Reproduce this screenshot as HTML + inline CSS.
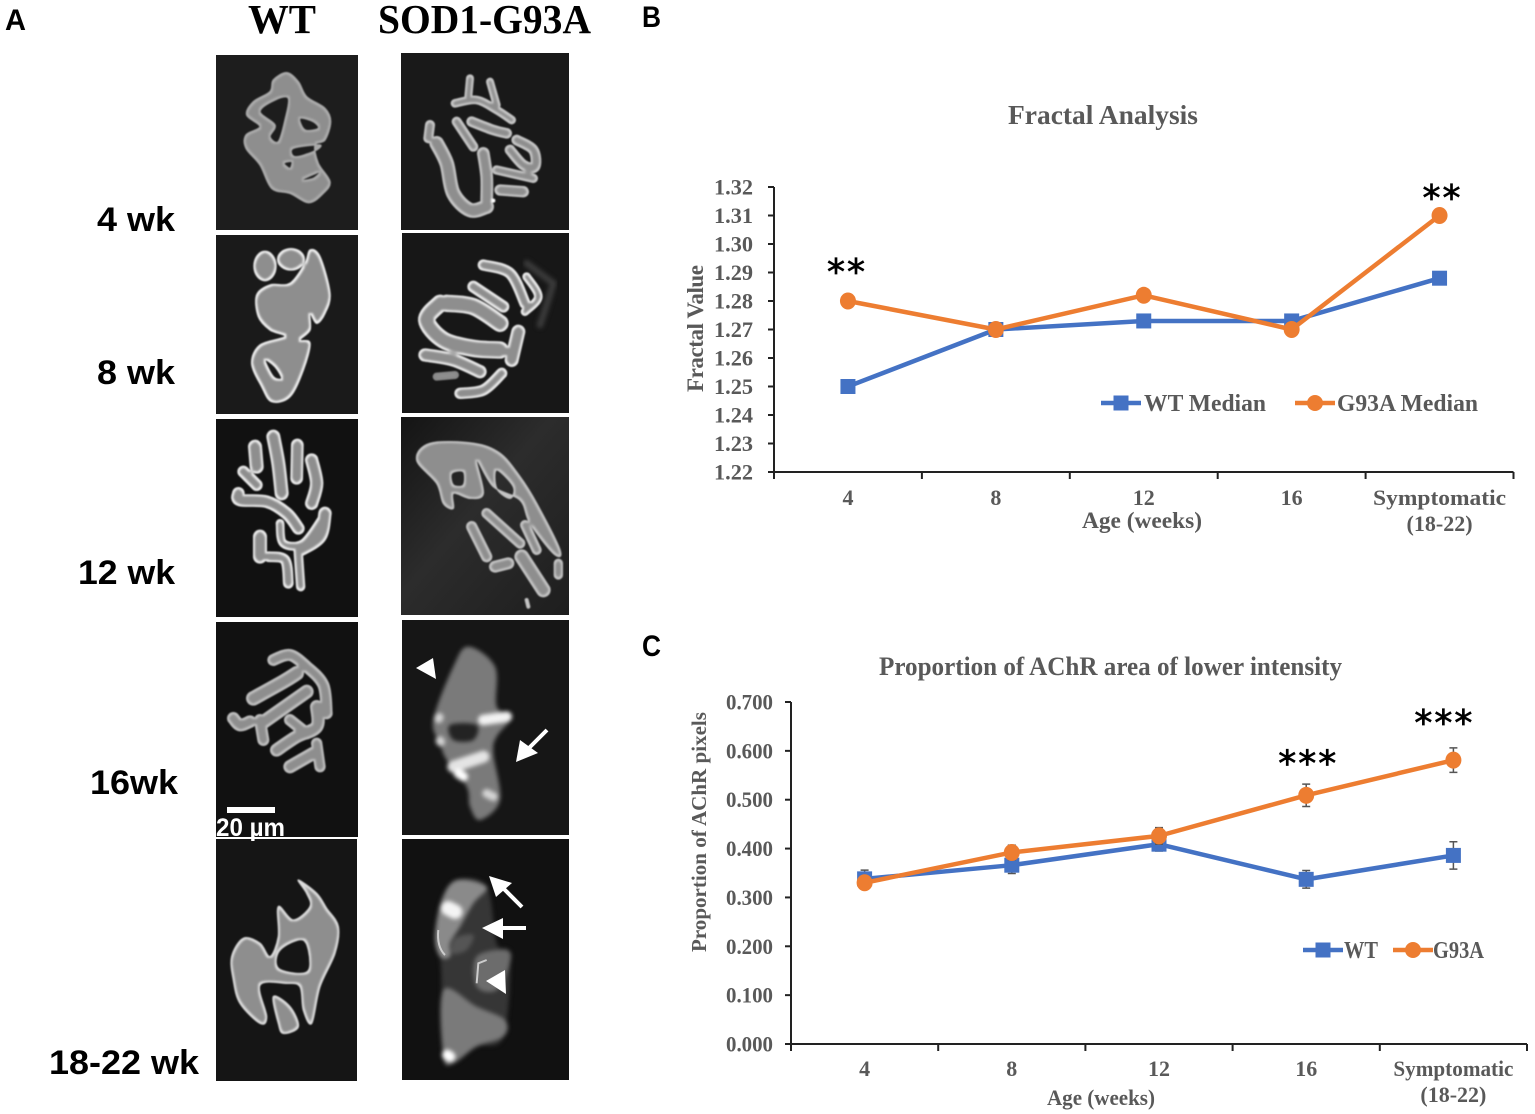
<!DOCTYPE html>
<html><head><meta charset="utf-8"><title>NMJ morphology figure</title>
<style>
html,body{margin:0;padding:0;background:#fff}
svg{display:block}
text{font-family:"Liberation Serif",serif}
.sans{font-family:"Liberation Sans",sans-serif;font-weight:bold;fill:#000}
.ct{font-weight:bold;fill:#595959}
</style></head>
<body>
<svg id="fig" xmlns="http://www.w3.org/2000/svg" width="1535" height="1114" viewBox="0 0 1535 1114">
<defs>
<filter id="nmj" x="-15%" y="-15%" width="130%" height="130%" color-interpolation-filters="sRGB">
<feMorphology in="SourceAlpha" operator="erode" radius="6" result="er"/>
<feGaussianBlur in="er" stdDeviation="2.5" result="erb"/>
<feFlood flood-color="#8e8e8e"/>
<feComposite in2="erb" operator="in" result="core"/>
<feMerge result="m"><feMergeNode in="SourceGraphic"/><feMergeNode in="core"/></feMerge>
<feGaussianBlur in="m" stdDeviation="2.6"/>
</filter>
<filter id="soft" x="-15%" y="-15%" width="130%" height="130%" color-interpolation-filters="sRGB"><feGaussianBlur stdDeviation="6"/></filter>
<linearGradient id="sod3bg" x1="0" y1="0" x2="1" y2="1"><stop offset="0" stop-color="#141414"/><stop offset=".45" stop-color="#2c2c2c"/><stop offset="1" stop-color="#1e1e1e"/></linearGradient>
</defs>
<rect width="1535" height="1114" fill="#fff"/>

<text class="sans" x="5" y="30" font-size="30" textLength="21" lengthAdjust="spacingAndGlyphs">A</text>
<text class="sans" x="642" y="27" font-size="30" textLength="19" lengthAdjust="spacingAndGlyphs">B</text>
<text class="sans" x="642" y="656" font-size="30" textLength="19" lengthAdjust="spacingAndGlyphs">C</text>
<text x="248" y="33" font-size="41" font-weight="bold" textLength="68" lengthAdjust="spacingAndGlyphs">WT</text>
<text x="378" y="33" font-size="41" font-weight="bold" textLength="213" lengthAdjust="spacingAndGlyphs">SOD1-G93A</text>

<text class="sans" x="97" y="231" font-size="34" textLength="78" lengthAdjust="spacingAndGlyphs">4 wk</text>
<text class="sans" x="97" y="384" font-size="34" textLength="78" lengthAdjust="spacingAndGlyphs">8 wk</text>
<text class="sans" x="78" y="584" font-size="34" textLength="97" lengthAdjust="spacingAndGlyphs">12 wk</text>
<text class="sans" x="90" y="794" font-size="34" textLength="88" lengthAdjust="spacingAndGlyphs">16wk</text>
<text class="sans" x="49" y="1074" font-size="34" textLength="150" lengthAdjust="spacingAndGlyphs">18-22 wk</text>

<!-- Micrograph panels -->
<g>
<rect x="216" y="55" width="142" height="175" fill="#1d1d1d"/>
<g transform="translate(210,50) scale(.33333)"><g class="org" filter="url(#nmj)" fill="#adadad" stroke="#adadad" stroke-width="4" stroke-linejoin="round" fill-rule="evenodd">
<path d="M230,68 L265,95 L290,140 L345,175 L362,215 L345,270 L315,285 L325,340 L360,395 L340,430 L297,458 L240,430 L185,415 L150,345 L108,295 L108,255 L150,230 L110,195 L130,155 L180,125 L190,90 Z M150,185 L195,150 L235,145 L225,210 L205,275 L180,260 L195,225 Z M270,205 L310,215 L325,235 L285,240 Z M250,295 L330,285 L310,305 L255,320 Z M222,340 L245,335 L240,355 Z M275,390 L330,365 L310,385 Z"/>
</g></g></g>

<g>
<rect x="401" y="53" width="168" height="177" fill="#191919"/>
<g transform="translate(210,50) scale(.33333)"><g class="org" filter="url(#nmj)" fill="none" stroke="#c8c8c8" stroke-linecap="round" stroke-linejoin="round">
<path d="M735,160 L800,150 L860,180 L905,210" stroke-width="26"/>
<path d="M780,85 L775,140 M840,95 L860,165" stroke-width="24"/>
<path d="M660,225 L655,265" stroke-width="30"/>
<path d="M680,280 L710,340 L730,430 L780,480 L830,470" stroke-width="44"/>
<path d="M740,215 L790,290" stroke-width="30"/>
<path d="M785,215 L850,240 L890,250" stroke-width="32"/>
<path d="M820,310 L830,380 L830,450" stroke-width="38"/>
<path d="M920,270 L970,300 L975,350 L940,345 L900,300" stroke-width="32"/>
<path d="M860,360 L970,385" stroke-width="28"/>
<path d="M870,420 L940,425" stroke-width="34"/>
<path d="M825,452 L850,452" stroke="#fff" stroke-width="12"/>
</g></g></g>

<g>
<rect x="216" y="235" width="142" height="179" fill="#1a1a1a"/>
<g transform="translate(210,50) scale(.33333)"><g class="org" filter="url(#nmj)" fill="#f0f0f0" stroke="#f0f0f0" stroke-width="4" stroke-linejoin="round" fill-rule="evenodd">
<path d="M140,735 L180,705 L240,700 L285,640 L300,600 L330,620 L360,730 L345,790 L320,820 L300,790 L300,840 L270,870 L300,880 L280,960 L240,1040 L185,1055 L155,1010 L125,940 L150,885 L225,860 L180,840 L145,800 Z M165,930 L195,950 L215,985 L190,980 Z"/>
<ellipse cx="165" cy="648" rx="33" ry="44"/><ellipse cx="243" cy="628" rx="40" ry="32"/>
</g></g></g>

<g>
<rect x="402" y="233" width="167" height="180" fill="#171717"/>
<g transform="translate(210,50) scale(.33333)">
<path d="M950,640 L1030,700 L1005,780 L990,825" fill="none" stroke="#3a3a3a" stroke-width="20" stroke-linecap="round" filter="url(#soft)"/>
<g class="org" filter="url(#nmj)" fill="none" stroke="#ececec" stroke-linecap="round" stroke-linejoin="round">
<path d="M820,645 L900,670 L945,760" stroke-width="34"/>
<path d="M950,680 L985,740 L945,785" stroke-width="26"/>
<path d="M690,760 L650,810 L700,870 L790,895 L870,900" stroke-width="52"/>
<path d="M710,760 L790,770 L870,820" stroke-width="52"/>
<path d="M790,710 L880,770" stroke-width="36"/>
<path d="M925,845 L905,930" stroke-width="42"/>
<path d="M645,915 L730,930 L810,965" stroke-width="40"/>
<path d="M750,1030 L820,1020 L875,970" stroke-width="34"/>
<path d="M680,980 L735,975" stroke-width="24" stroke="#8a8a8a"/>
</g>
</g></g>

<g>
<rect x="216" y="419" width="142" height="198" fill="#111"/>
<g transform="translate(210,410) scale(.33333)"><g class="org" filter="url(#nmj)" fill="none" stroke="#ededed" stroke-linecap="round" stroke-linejoin="round">
<path d="M135,110 L140,170" stroke-width="42"/>
<path d="M190,80 L205,160 L215,250" stroke-width="42"/>
<path d="M262,105 L260,205" stroke-width="38"/>
<path d="M305,150 L320,220 L305,280" stroke-width="40"/>
<path d="M100,185 L140,225" stroke-width="36"/>
<path d="M85,250 L90,270 L170,275 L230,310 L265,355" stroke-width="38"/>
<path d="M210,340 L220,400 L280,400 L340,320" stroke-width="26"/>
<path d="M345,310 L330,380 L270,420" stroke-width="40"/>
<path d="M150,380 L150,440" stroke-width="42"/>
<path d="M175,440 L225,450 L235,520" stroke-width="32"/>
<path d="M265,430 L272,530" stroke-width="28"/>
</g></g></g>

<g>
<rect x="401" y="417" width="168" height="198" fill="url(#sod3bg)"/>
<g transform="translate(210,410) scale(.33333)"><g class="org" filter="url(#nmj)" fill="#c4c4c4" stroke="#c4c4c4" stroke-width="4" stroke-linecap="round" stroke-linejoin="round" fill-rule="evenodd">
<path d="M620,150 L660,100 L790,100 L870,130 L930,200 L980,280 L1050,420 L1030,430 L960,340 L930,270 L850,230 L800,150 L820,250 L780,265 L730,250 L730,295 L700,280 L680,220 Z M725,190 L760,185 L760,225 L730,225 Z M860,180 L910,230 L900,265 L860,235 Z"/>
<g fill="none">
<path d="M785,350 L830,440" stroke-width="34"/>
<path d="M830,310 L930,400" stroke-width="32"/>
<path d="M945,345 L980,420" stroke-width="30"/>
<path d="M855,470 L895,460" stroke-width="36"/>
<path d="M935,440 L1000,540" stroke-width="44"/>
<path d="M1045,460 L1045,495" stroke-width="28"/>
<path d="M950,570 L955,590" stroke-width="12"/>
</g></g></g></g>

<g>
<rect x="216" y="622" width="142" height="215" fill="#111"/>
<g transform="translate(210,610) scale(.33333)"><g class="org" filter="url(#nmj)" fill="none" stroke="#c0c0c0" stroke-linecap="round" stroke-linejoin="round">
<path d="M70,325 L90,345 L120,335" stroke-width="38"/>
<path d="M190,150 L240,135 L290,170 L340,225 L350,310" stroke-width="36"/>
<path d="M130,265 L220,215 L260,190" stroke-width="44"/>
<path d="M155,340 L290,245" stroke-width="42"/>
<path d="M160,390 L150,330" stroke-width="36"/>
<path d="M200,420 L260,380 L320,350 L320,290" stroke-width="40"/>
<path d="M240,470 L310,430" stroke-width="40"/>
<path d="M320,400 L330,470" stroke-width="34"/>
<path d="M240,330 L290,370" stroke-width="36"/>
</g></g>
<rect x="227" y="807" width="48" height="6" fill="#fff"/>
</g>

<g>
<rect x="402" y="620" width="167" height="215" fill="#161616"/>
<g transform="translate(210,610) scale(.33333)">
<g class="org" filter="url(#soft)">
<path d="M775,110 L855,170 L860,290 L905,320 L860,380 L850,430 L870,570 L810,630 L780,590 L770,530 L710,450 L690,400 L670,330 L730,170 Z" fill="#7a7a7a"/>
<path d="M720,345 L800,345 L790,390 L730,390 Z" fill="#232323"/>
<path d="M820,330 L890,320" stroke="#f2f2f2" stroke-width="32" stroke-linecap="round" fill="none"/>
<path d="M730,470 L820,440" stroke="#e4e4e4" stroke-width="36" stroke-linecap="round" fill="none"/>
<path d="M745,490 L760,500" stroke="#fff" stroke-width="28" stroke-linecap="round" fill="none"/>
<path d="M688,322 L686,326 M690,392 L692,396 M830,550 L850,560" stroke="#d4d4d4" stroke-width="26" stroke-linecap="round" fill="none"/>
</g></g></g>

<g>
<rect x="216" y="839" width="141" height="242" fill="#151515"/>
<g transform="translate(210,610) scale(.33333)"><g class="org" filter="url(#nmj)" fill="#dcdcdc" stroke="#dcdcdc" stroke-width="4" stroke-linejoin="round" fill-rule="evenodd">
<path d="M265,810 L320,850 L350,895 L385,950 L375,1030 L330,1130 L305,1240 L280,1200 L270,1130 L230,1120 L150,1125 L170,1220 L150,1240 L90,1180 L70,1110 L65,1040 L100,985 L150,1000 L180,1040 L205,980 L205,890 L250,930 L300,890 L290,850 Z M210,1020 L280,990 L300,1060 L280,1090 L205,1075 Z"/>
<path d="M190,1160 L240,1190 L265,1250 L220,1270 L205,1240 Z"/>
</g></g></g>

<g>
<rect x="402" y="839" width="167" height="241" fill="#111"/>
<g transform="translate(210,610) scale(.33333)">
<g class="org" filter="url(#soft)">
<path d="M740,810 L830,830 L860,1000 L900,1040 L880,1280 L800,1310 L730,1360 L700,1340 L695,1140 L690,1040 L675,980 L695,870 Z" fill="#363636"/>
<path d="M740,810 L830,830 L790,880 L750,950 L720,1000 L720,1040 L690,1040 L675,980 L695,870 Z" fill="#8a8a8a"/>
<path d="M735,985 L790,975 L770,1020 L725,1030 Z" fill="#555"/>
<path d="M700,1140 L800,1190 L885,1230 L880,1280 L800,1310 L730,1360 L700,1340 Z" fill="#7a7a7a"/>
<path d="M800,1040 L890,1020 L900,1060 L860,1140 L800,1130 Z" fill="#6c6c6c"/>
<path d="M715,895 L735,905" stroke="#f4f4f4" stroke-width="44" stroke-linecap="round" fill="none"/>
<path d="M712,1335 L720,1340" stroke="#fff" stroke-width="32" stroke-linecap="round" fill="none"/>
</g>
<path d="M685,960 Q680,1010 705,1035 M800,1120 L805,1060 L830,1050" fill="none" stroke="#ccc" stroke-width="6"/>
</g></g>

<text x="216" y="836" font-size="25" class="sans" style="fill:#fff" textLength="69" lengthAdjust="spacingAndGlyphs">20 µm</text>

<g fill="#fff" stroke="#fff">
<polygon points="416,668 433,658 436,679" stroke="none"/>
<g><line x1="547" y1="730" x2="527" y2="750" stroke-width="4"/><polygon points="516,762 520,740 538,753" stroke="none"/></g>
<g><line x1="522" y1="907" x2="502" y2="887" stroke-width="4"/><polygon points="489,876 512,883 496,897" stroke="none"/></g>
<g><line x1="526" y1="928" x2="500" y2="928" stroke-width="4"/><polygon points="482,928 503,918 503,939" stroke="none"/></g>
<polygon points="486,981 505,970 506,994" stroke="none"/>
</g>

<!-- Chart B static text -->
<g id="chart-b">
<text class="ct" x="1008" y="124" font-size="27" textLength="190" lengthAdjust="spacingAndGlyphs">Fractal Analysis</text>
<text class="ct" transform="translate(703,392) rotate(-90)" font-size="23" textLength="127" lengthAdjust="spacing">Fractal Value</text>
<text class="ct" x="1082" y="528" font-size="23" textLength="120" lengthAdjust="spacingAndGlyphs">Age (weeks)</text>
<text class="ct" x="1144" y="411" font-size="24" textLength="122" lengthAdjust="spacingAndGlyphs">WT Median</text>
<text class="ct" x="1337" y="411" font-size="24" textLength="141" lengthAdjust="spacingAndGlyphs">G93A Median</text>
</g>
<!-- Chart C static text -->
<g id="chart-c">
<text class="ct" x="879" y="675" font-size="26" textLength="463" lengthAdjust="spacingAndGlyphs">Proportion of AChR area of lower intensity</text>
<text class="ct" transform="translate(706,952) rotate(-90)" font-size="21" textLength="240" lengthAdjust="spacing">Proportion of AChR pixels</text>
<text class="ct" x="1047" y="1105" font-size="22" textLength="108" lengthAdjust="spacingAndGlyphs">Age (weeks)</text>
<text class="ct" x="1344" y="958" font-size="24" textLength="34" lengthAdjust="spacingAndGlyphs">WT</text>
<text class="ct" x="1433" y="958" font-size="24" textLength="51" lengthAdjust="spacingAndGlyphs">G93A</text>
</g>
</svg>

<script>
// Shared category labels
const categories = ['4', '8', '12', '16', 'Symptomatic'];
const categorySubLabels = ['', '', '', '', '(18-22)'];

// Chart B data
const ticksB = ['1.22', '1.23', '1.24', '1.25', '1.26', '1.27', '1.28', '1.29', '1.30', '1.31', '1.32'];
const wtMedianB = [1.25, 1.27, 1.273, 1.273, 1.288];
const g93aMedianB = [1.28, 1.27, 1.282, 1.27, 1.31];
const sigCategoriesB = [0, 4];
const sigLevelsB = [1.2859, 1.3119];
const sigMarksB = ['**', '**'];

// Chart C data
const ticksC = ['0.000', '0.100', '0.200', '0.300', '0.400', '0.500', '0.600', '0.700'];
const wtMeanC = [0.338, 0.366, 0.409, 0.337, 0.386];
const g93aMeanC = [0.330, 0.392, 0.426, 0.509, 0.581];
const wtErrC = [0.018, 0.017, 0.014, 0.018, 0.028];
const g93aErrC = [0.010, 0.015, 0.017, 0.023, 0.025];
const sigCategoriesC = [3, 4];
const sigLevelsC = [0.550, 0.632];
const sigMarksC = ['***', '***'];

const NS = 'http://www.w3.org/2000/svg';
const BLUE = '#4472C4', ORANGE = '#ED7D31';

// Round off the hand-traced micrograph outlines so they read as organic shapes
function smoothPath(d) {
  return d.split('M').filter(s => s.trim()).map(sub => {
    const closed = /Z/i.test(sub);
    const nums = sub.match(/-?[\d.]+/g).map(Number);
    const pts = [];
    for (let i = 0; i + 1 < nums.length; i += 2) pts.push([nums[i], nums[i + 1]]);
    const n = pts.length;
    if (n < 3) return 'M' + sub;
    const at = i => closed ? pts[(i + n) % n] : pts[Math.max(0, Math.min(n - 1, i))];
    let out = `M${pts[0][0]},${pts[0][1]}`;
    const last = closed ? n : n - 1;
    for (let i = 0; i < last; i++) {
      const p0 = at(i - 1), p1 = at(i), p2 = at(i + 1), p3 = at(i + 2);
      out += `C${p1[0] + (p2[0] - p0[0]) / 6},${p1[1] + (p2[1] - p0[1]) / 6} ${p2[0] - (p3[0] - p1[0]) / 6},${p2[1] - (p3[1] - p1[1]) / 6} ${p2[0]},${p2[1]}`;
    }
    return out + (closed ? 'Z' : '');
  }).join('');
}
document.querySelectorAll('.org path').forEach(p => p.setAttribute('d', smoothPath(p.getAttribute('d'))));

function mk(parent, tag, attrs) {
  const el = document.createElementNS(NS, tag);
  for (const k in attrs) el.setAttribute(k, attrs[k]);
  parent.appendChild(el);
  return el;
}

function square(parent, cx, cy, s, color) {
  return mk(parent, 'rect', {x: cx - s / 2, y: cy - s / 2, width: s, height: s, fill: color});
}

function drawChart(cfg) {
  const root = document.getElementById(cfg.id);
  const p = cfg.plot;
  const yMin = parseFloat(cfg.ticks[0]);
  const yMax = parseFloat(cfg.ticks[cfg.ticks.length - 1]);
  const yScale = v => p.bottom - (v - yMin) / (yMax - yMin) * (p.bottom - p.top);
  const band = (p.right - p.left) / categories.length;
  const xScale = i => p.left + band * (i + 0.5);

  const yAxis = mk(root, 'line', {x1: p.left, y1: p.top, x2: p.left, y2: p.bottom, stroke: '#222', 'stroke-width': 2});
  
  
  const xAxis = mk(root, 'line', {x1: p.left - 6, y1: p.bottom, x2: p.right, y2: p.bottom, stroke: '#222', 'stroke-width': 2});
  
  

  cfg.ticks.forEach(t => {
    const y = yScale(parseFloat(t));
    const tick = mk(root, 'line', {x1: p.left - 6, y1: y, x2: p.left, y2: y, stroke: '#222', 'stroke-width': 2});
    
    
    const label = mk(root, 'text', {x: p.left - cfg.yLabelGap, y: y + 7.5, 'text-anchor': 'end', 'font-size': cfg.yFont, class: 'ct', textLength: cfg.yLabelWidth, lengthAdjust: 'spacingAndGlyphs'});
    label.textContent = t;
    
    
  });

  for (let i = 0; i <= categories.length; i++) {
    const x = p.left + band * i;
    const tick = mk(root, 'line', {x1: x, y1: p.bottom, x2: x, y2: p.bottom + 7, stroke: '#222', 'stroke-width': 2});
    
    
  }

  categories.forEach((c, i) => {
    const label = mk(root, 'text', {x: xScale(i), y: cfg.xLabelY, 'text-anchor': 'middle', 'font-size': cfg.xFont, class: 'ct'});
    if (c.length > 4) {
      label.setAttribute('textLength', cfg.longLabelWidth);
      label.setAttribute('lengthAdjust', 'spacingAndGlyphs');
    }
    label.textContent = c;
    
    
    if (categorySubLabels[i]) {
      const sub = mk(root, 'text', {x: xScale(i), y: cfg.xLabelY + 26, 'text-anchor': 'middle', 'font-size': cfg.xFont, class: 'ct'});
      sub.textContent = categorySubLabels[i];
      
      
    }
  });

  const drawSeries = (values, errors, color, isSquare, name) => {
    const g = mk(root, 'g', {});
    
    
    if (errors) {
      values.forEach((v, i) => {
        const x = xScale(i), hi = yScale(v + errors[i]), lo = yScale(v - errors[i]);
        const bar = mk(g, 'path', {d: `M${x - 4},${hi}H${x + 4}M${x},${hi}V${lo}M${x - 4},${lo}H${x + 4}`, fill: 'none', stroke: '#555', 'stroke-width': 1.5});
        
        
      });
    }
    const pts = values.map((v, i) => xScale(i) + ',' + yScale(v)).join(' ');
    const line = mk(g, 'polyline', {points: pts, fill: 'none', stroke: color, 'stroke-width': 4.5, 'stroke-linejoin': 'round'});
    
    
    values.forEach((v, i) => {
      const marker = isSquare
        ? square(g, xScale(i), yScale(v), 15, color)
        : mk(g, 'ellipse', {cx: xScale(i), cy: yScale(v), rx: 8, ry: 8.5, fill: color});
      
      
    });
  };
  drawSeries(cfg.wt, cfg.wtErr, BLUE, true, 'wt');
  drawSeries(cfg.g93a, cfg.g93aErr, ORANGE, false, 'g93a');

  cfg.sigCats.forEach((c, i) => {
    const star = mk(root, 'text', {x: xScale(c) + cfg.sigDx[i], y: yScale(cfg.sigLevels[i]), 'text-anchor': 'middle', 'font-size': 36, fill: '#000', stroke: '#000', 'stroke-width': 0.7, 'letter-spacing': 2});
    star.style.fontFamily = '"DejaVu Sans",sans-serif';
    star.textContent = cfg.sigMarks[i];
    
    
  });

  const lg1 = mk(root, 'line', {x1: cfg.legend[0], y1: cfg.legendY, x2: cfg.legend[0] + 40, y2: cfg.legendY, stroke: BLUE, 'stroke-width': 4.5});
  
  
  const lg1m = square(root, cfg.legend[0] + 20, cfg.legendY, 15, BLUE);
  
  
  const lg2 = mk(root, 'line', {x1: cfg.legend[1], y1: cfg.legendY, x2: cfg.legend[1] + 40, y2: cfg.legendY, stroke: ORANGE, 'stroke-width': 4.5});
  
  
  const lg2m = mk(root, 'circle', {cx: cfg.legend[1] + 20, cy: cfg.legendY, r: 8, fill: ORANGE});
  
  
}

drawChart({
  id: 'chart-b', plot: {left: 774, right: 1513.5, top: 187, bottom: 472},
  ticks: ticksB, wt: wtMedianB, g93a: g93aMedianB,
  sigCats: sigCategoriesB, sigLevels: sigLevelsB, sigMarks: sigMarksB, sigDx: [-1, 3],
  yLabelGap: 21, yFont: 22, yLabelWidth: 39, xLabelY: 505, xFont: 22, longLabelWidth: 133,
  legend: [1101, 1295], legendY: 403
});
drawChart({
  id: 'chart-c', plot: {left: 791, right: 1527, top: 702, bottom: 1044},
  ticks: ticksC, wt: wtMeanC, g93a: g93aMeanC, wtErr: wtErrC, g93aErr: g93aErrC,
  sigCats: sigCategoriesC, sigLevels: sigLevelsC, sigMarks: sigMarksC, sigDx: [2, -9],
  yLabelGap: 18, yFont: 22, yLabelWidth: 47, xLabelY: 1076, xFont: 22, longLabelWidth: 120,
  legend: [1303, 1393], legendY: 950
});
</script>
</body></html>
